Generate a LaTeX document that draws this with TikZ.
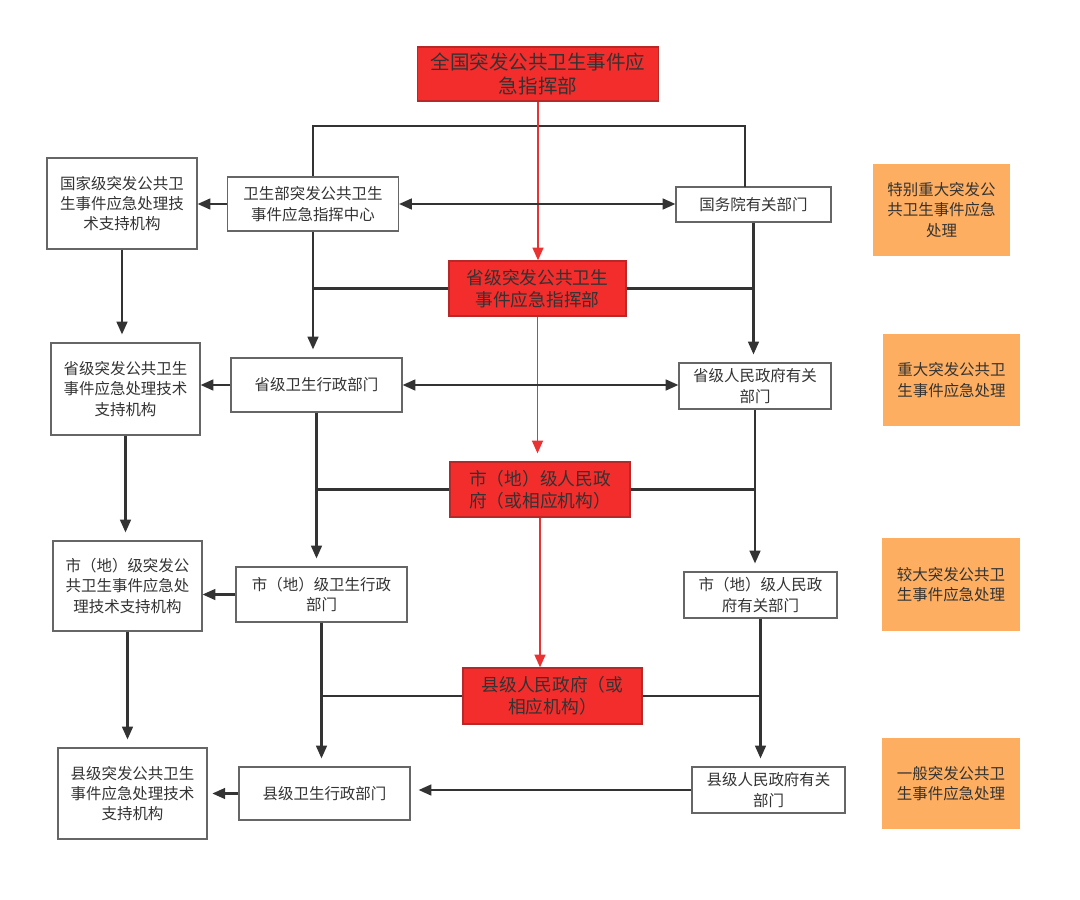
\documentclass[tikz,border=0pt]{standalone}
\usepackage{fontspec}
\newfontfamily\cjk{Noto Sans CJK SC}
\usetikzlibrary{arrows.meta}
\definecolor{boxred}{RGB}{243,44,44}
\definecolor{boxredline}{RGB}{185,40,40}
\definecolor{lvlorange}{RGB}{253,174,96}
\definecolor{ink}{RGB}{51,51,51}
\definecolor{redline}{RGB}{235,50,50}
\tikzset{
  unit/.style 2 args={minimum width=#1*0.025cm, minimum height=#2*0.025cm},
  office/.style={draw=black!60, line width=0.8pt, fill=white, inner sep=0pt, align=center,
    text=ink, font=\cjk\fontsize{11pt}{14.5pt}\selectfont},
  command/.style={office, fill=boxred, draw=boxredline, font=\cjk\fontsize{12.6pt}{15.4pt}\selectfont},
  level/.style={inner sep=0pt, fill=lvlorange, align=center, text=ink,
    font=\cjk\fontsize{11pt}{14.5pt}\selectfont},
  link/.style={draw=ink, line width=1.5pt},
  flow/.style={link, -{Triangle[length=0.32cm,width=0.27cm]}},
  twoway/.style={link, {Triangle[length=0.32cm,width=0.27cm]}-{Triangle[length=0.32cm,width=0.27cm]}},
  redflow/.style={draw=redline, line width=1.4pt, -{Triangle[length=0.32cm,width=0.27cm]}},
  gap/.style={shorten >=0.2cm},
}
\begin{document}
\begin{tikzpicture}[x=0.025cm, y=-0.025cm]
  \useasboundingbox (0,0) rectangle (1080,900);
  %%%%% COMMAND CHAIN %%%%%
  \node[command, unit={241}{54}, font=\cjk\fontsize{13.9pt}{17.7pt}\selectfont] (national) at (538,74) {全国突发公共卫生事件应\\急指挥部};
  \node[command, unit={177}{55}] (provcmd) at (537.5,288.5) {省级突发公共卫生\\事件应急指挥部};
  \node[command, unit={180}{55}] (citygov) at (540,489.5) {市（地）级人民政\\府（或相应机构）};
  \node[command, unit={179}{56}] (countygov) at (552.5,696) {县级人民政府（或\\相应机构）};

  %%%%% HEALTH DEPARTMENTS %%%%%
  \node[office, unit={171}{54}] (moh) at (313,204) {卫生部突发公共卫生\\事件应急指挥中心};
  \node[office, unit={171}{54}] (provhealth) at (316.5,385) {省级卫生行政部门};
  \node[office, unit={171}{55}] (cityhealth) at (321.5,594.5) {市（地）级卫生行政\\部门};
  \node[office, unit={171}{53}] (countyhealth) at (324.5,793.5) {县级卫生行政部门};

  %%%%% TECHNICAL SUPPORT %%%%%
  \node[office, unit={150}{91}] (nattech) at (122,203.5) {国家级突发公共卫\\生事件应急处理技\\术支持机构};
  \node[office, unit={149}{92}] (provtech) at (125.5,389) {省级突发公共卫生\\事件应急处理技术\\支持机构};
  \node[office, unit={149}{90}] (citytech) at (127.5,586) {市（地）级突发公\\共卫生事件应急处\\理技术支持机构};
  \node[office, unit={149}{91}] (countytech) at (132.5,793.5) {县级突发公共卫生\\事件应急处理技术\\支持机构};

  %%%%% GOVERNMENT DEPARTMENTS %%%%%
  \node[office, unit={155}{35}] (council) at (753.5,204.5) {国务院有关部门};
  \node[office, unit={152}{46}] (provdept) at (755,386) {省级人民政府有关\\部门};
  \node[office, unit={153}{46}] (citydept) at (760.5,595) {市（地）级人民政\\府有关部门};
  \node[office, unit={153}{46}] (countydept) at (768.5,790) {县级人民政府有关\\部门};

  %%%%% RESPONSE LEVELS %%%%%
  \node[level, unit={137}{92}] (lvlone) at (941.5,210) {特别重大突发公\\共卫生事件应急\\处理};
  \node[level, unit={137}{92}] (lvltwo) at (951.5,380) {重大突发公共卫\\生事件应急处理};
  \node[level, unit={138}{93}] (lvlthree) at (951,584.5) {较大突发公共卫\\生事件应急处理};
  \node[level, unit={138}{91}] (lvlfour) at (951,783.5) {一般突发公共卫\\生事件应急处理};

  %%%%% CONNECTORS %%%%%
  \coordinate (bar) at (538,126);
  \coordinate (barend) at (745,187);
  \draw[link] (moh.north) |- (bar) -| (barend);

  \draw[redflow] (national.south) -- (national.south |- provcmd.north);
  \draw[redflow, gap] (provcmd.south) -- (provcmd.south |- citygov.north);
  \draw[redflow] (citygov.south) -- (citygov.south |- countygov.north);

  \draw[flow] (moh.west) -- (moh.west -| nattech.east);
  \draw[twoway] (moh.east) -- (moh.east -| council.west);
  \draw[flow] (provhealth.west) -- (provhealth.west -| provtech.east);
  \draw[twoway] (provhealth.east) -- (provhealth.east -| provdept.west);
  \draw[flow] (cityhealth.west) -- (cityhealth.west -| citytech.east);
  \draw[flow, shorten >=0.12cm] (countyhealth.west) -- (countyhealth.west -| countytech.east);
  \draw[flow, gap] (countydept.west) -- (countydept.west -| countyhealth.east);

  \draw[flow, gap] (nattech.south) -- (nattech.south |- provtech.north);
  \draw[flow, gap] (provtech.south) -- (provtech.south |- citytech.north);
  \draw[flow, gap] (citytech.south) -- (citytech.south |- countytech.north);

  \draw[flow, gap] (moh.south) -- (moh.south |- provhealth.north);
  \draw[flow, gap] (provhealth.south) -- (provhealth.south |- cityhealth.north);
  \draw[flow, gap] (cityhealth.south) -- (cityhealth.south |- countyhealth.north);

  \draw[flow, gap] (council.south) -- (council.south |- provdept.north);
  \draw[flow, gap] (provdept.south) -- (provdept.south |- citydept.north);
  \draw[flow, gap] (citydept.south) -- (citydept.south |- countydept.north);

  \draw[link] (provcmd.west) -- (provcmd.west -| moh.south);
  \draw[link] (provcmd.east) -- (provcmd.east -| council.south);
  \draw[link] (citygov.west) -- (citygov.west -| provhealth.south);
  \draw[link] (citygov.east) -- (citygov.east -| provdept.south);
  \draw[link] (countygov.west) -- (countygov.west -| cityhealth.south);
  \draw[link] (countygov.east) -- (countygov.east -| citydept.south);
\end{tikzpicture}
\end{document}
